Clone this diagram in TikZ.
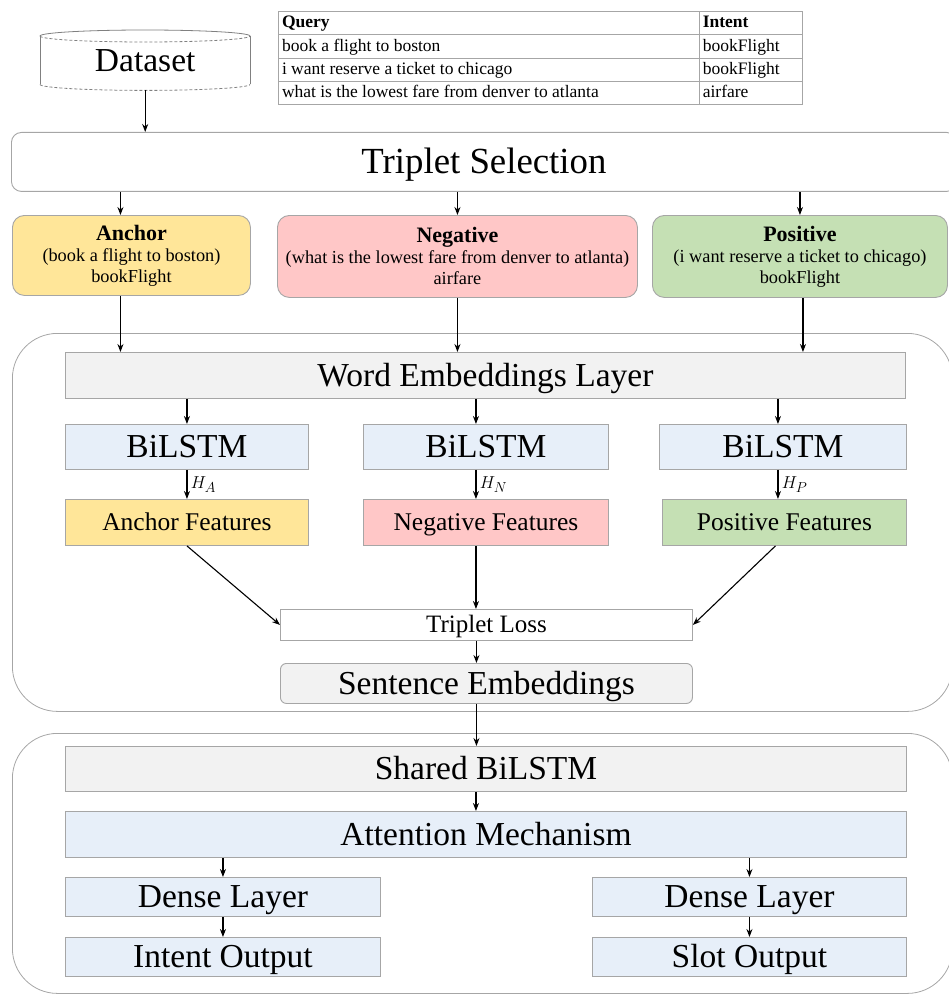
\documentclass[tikz,border=0pt]{standalone}
\usepackage{fontspec}
\setmainfont{Liberation Serif}
\usepackage{colortbl}
\usetikzlibrary{arrows.meta, positioning, shapes}

\definecolor{boxgray}{HTML}{A6A6A6}
\definecolor{ancfill}{HTML}{FFE699}
\definecolor{negfill}{HTML}{FFC7C7}
\definecolor{posfill}{HTML}{C5E0B4}
\definecolor{lstmfill}{HTML}{E7EFF9}
\definecolor{layfill}{HTML}{F2F2F2}

\begin{document}
\begin{tikzpicture}[x=1pt, y=-1pt,
    lay/.style={draw=boxgray, line width=0.9pt, anchor=north west, inner sep=0pt},
    big/.style={font=\fontsize{33.5}{36}\selectfont, text height=25pt, text depth=3pt},
    mid/.style={font=\fontsize{25.5}{28}\selectfont, text height=19pt, text depth=2pt},
    sample/.style={lay, rounded corners=12pt, align=center, font=\fontsize{18.3}{21}\selectfont},
    region/.style={draw=boxgray, line width=0.8pt, rounded corners=45pt, anchor=north west, inner sep=0pt},
    hlab/.style={right, font=\fontsize{19}{19}\selectfont},
    cyl/.style={draw=gray, line width=0.8pt},
    arr/.style={-{Stealth[length=8pt,width=6pt]}, line width=1.1pt}]
        \useasboundingbox (0,0) rectangle (948,995);
        % two big frames
        \node[region, minimum width=940pt, minimum height=378pt] (enc) at (12,333) {};
        \node[region, minimum width=940pt, minimum height=260pt] (dec) at (12,733) {};

        % dataset and sample table
        \node[big, anchor=north west, inner sep=0pt, minimum width=210pt, minimum height=60pt] (data) at (40,30) {Dataset};
        \draw[cyl] ([yshift=-6pt]data.north west) -- ([yshift=6pt]data.south west);
        \draw[cyl] ([yshift=-6pt]data.north east) -- ([yshift=6pt]data.south east);
        \draw[cyl] ([yshift=-6pt]data.north west) arc[start angle=180, end angle=0, x radius=105pt, y radius=6pt];
        \draw[cyl, densely dashed] ([yshift=-6pt]data.north west) arc[start angle=180, end angle=360, x radius=105pt, y radius=6pt];
        \draw[cyl, densely dashed] ([yshift=6pt]data.south west) arc[start angle=180, end angle=360, x radius=105pt, y radius=6pt];
        \node[anchor=north west, inner sep=0pt, font=\fontsize{17.5}{22.5}\selectfont] (qtab) at (278,11) {%
            \arrayrulecolor{boxgray}\setlength\arrayrulewidth{0.8pt}\setlength\tabcolsep{3pt}%
            \begin{tabular}{|p{414pt}|p{96pt}|}
                \hline
                \textbf{Query} & \textbf{Intent}\\ \hline
                book a flight to boston & bookFlight\\ \hline
                i want reserve a ticket to chicago & bookFlight\\ \hline
                what is the lowest fare from denver to atlanta & airfare\\ \hline
            \end{tabular}};

        \node[lay, rounded corners=10pt, minimum width=945pt, minimum height=59pt, font=\fontsize{36.8}{40}\selectfont, text height=27pt, text depth=3pt] (sel) at (11,132) {Triplet Selection};

        % triplet samples
        \node[sample, fill=ancfill, minimum width=238pt, minimum height=80pt] (anc) at (12,215) {{\fontsize{22}{21}\selectfont\bfseries Anchor}\\(book a flight to boston)\\bookFlight};
        \node[sample, fill=negfill, minimum width=360pt, minimum height=82pt] (neg) at (277,215) {{\fontsize{22}{21}\selectfont\bfseries Negative}\\(what is the lowest fare from denver to atlanta)\\airfare};
        \node[sample, fill=posfill, minimum width=295pt, minimum height=82pt] (pos) at (652,215) {{\fontsize{22}{21}\selectfont\bfseries Positive}\\(i want reserve a ticket to chicago)\\bookFlight};

        % siamese encoder
        \node[lay, big, fill=layfill, minimum width=840pt, minimum height=46pt] (web) at (65,352) {Word Embeddings Layer};
        \node[lay, big, fill=lstmfill, minimum width=243pt, minimum height=45pt] (bl1) at (65,424) {BiLSTM};
        \node[lay, big, fill=lstmfill, minimum width=245pt, minimum height=45pt] (bl2) at (363,424) {BiLSTM};
        \node[lay, big, fill=lstmfill, minimum width=247pt, minimum height=45pt] (bl3) at (659,424) {BiLSTM};
        \node[lay, mid, fill=ancfill, minimum width=243pt, minimum height=46pt] (fa) at (65,499) {Anchor Features};
        \node[lay, mid, fill=negfill, minimum width=245pt, minimum height=46pt] (fn) at (363,499) {Negative Features};
        \node[lay, mid, fill=posfill, minimum width=244pt, minimum height=46pt] (fp) at (662,499) {Positive Features};
        \node[lay, mid, fill=white, minimum width=412pt, minimum height=31pt, font=\fontsize{25}{28}\selectfont, text height=17pt] (loss) at (280,609) {Triplet Loss};
        \node[lay, big, fill=layfill, rounded corners=6pt, minimum width=412pt, minimum height=40pt] (sent) at (280,663) {Sentence Embeddings};

        % joint model
        \node[lay, big, fill=layfill, minimum width=841pt, minimum height=45pt] (shr) at (65,746) {Shared BiLSTM};
        \node[lay, big, fill=lstmfill, minimum width=841pt, minimum height=46pt] (att) at (65,811) {Attention Mechanism};
        \node[lay, big, fill=lstmfill, minimum width=315pt, minimum height=39pt] (dl) at (65,877) {Dense Layer};
        \node[lay, big, fill=lstmfill, minimum width=314pt, minimum height=39pt] (dr) at (592,877) {Dense Layer};
        \node[lay, big, fill=lstmfill, minimum width=315pt, minimum height=39pt] (ol) at (65,937) {Intent Output};
        \node[lay, big, fill=lstmfill, minimum width=314pt, minimum height=39pt] (or) at (592,937) {Slot Output};

        % connectors
        \draw[arr] (data.south) -- (data.south |- sel.north);
        \draw[arr] ([xshift=-11pt]anc.north |- sel.south) -- ([xshift=-11pt]anc.north);
        \draw[arr] (neg.north |- sel.south) -- (neg.north);
        \draw[arr] (pos.north |- sel.south) -- (pos.north);
        \draw[arr] ([xshift=-11pt]anc.south) -- ([xshift=-11pt]anc.south |- web.north);
        \draw[arr] (neg.south) -- (neg.south |- web.north);
        \draw[arr] ([xshift=3pt]pos.south) -- ([xshift=3pt]pos.south |- web.north);
        \draw[arr] (bl1.north |- web.south) -- (bl1.north);
        \draw[arr] ([xshift=-10pt]bl2.north |- web.south) -- ([xshift=-10pt]bl2.north);
        \draw[arr] ([xshift=-5pt]bl3.north |- web.south) -- ([xshift=-5pt]bl3.north);
        \draw[arr] (bl1.south) -- node[hlab]{$H_A$} (fa.north);
        \draw[arr] ([xshift=-10pt]bl2.south) -- node[hlab]{$H_N$} ([xshift=-10pt]fn.north);
        \draw[arr] ([xshift=-5pt]bl3.south) -- node[hlab]{$H_P$} ([xshift=-5pt]bl3.south |- fp.north);
        \draw[arr] (fa.south) -- (loss.west);
        \draw[arr] ([xshift=-10pt]fn.south) -- ([xshift=-10pt]fn.south |- loss.north);
        \draw[arr] ([xshift=-9pt]fp.south) -- (loss.east);
        \draw[arr] ([xshift=-10pt]loss.south) -- ([xshift=-10pt]sent.north);
        \draw[arr] ([xshift=-10pt]sent.south) -- ([xshift=-10pt]sent.south |- shr.north);
        \draw[arr] ([xshift=-10pt]shr.south) -- ([xshift=-10pt]att.north);
        \draw[arr] (dl.north |- att.south) -- (dl.north);
        \draw[arr] (dr.north |- att.south) -- (dr.north);
        \draw[arr] (dl) -- (ol);
        \draw[arr] (dr) -- (or);
    \end{tikzpicture}
\end{document}
